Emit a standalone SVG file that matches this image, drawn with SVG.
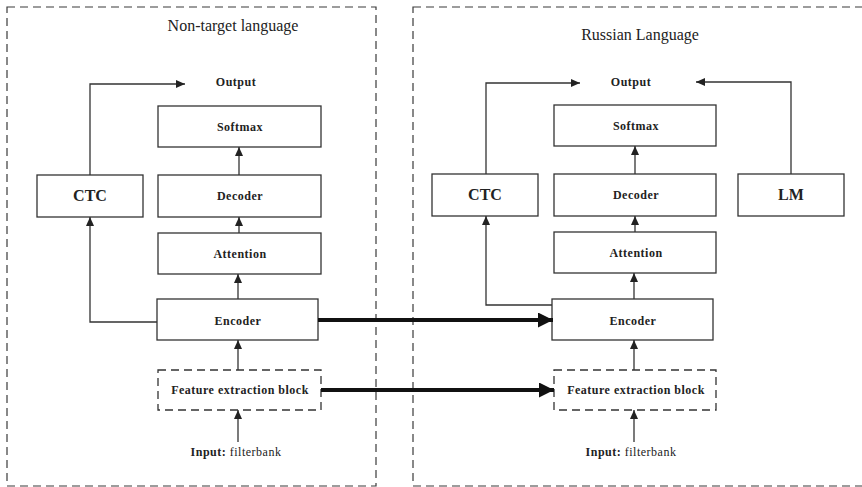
<svg xmlns="http://www.w3.org/2000/svg" width="862" height="487" viewBox="0 0 862 487">
  <defs>
    <marker id="head" markerUnits="userSpaceOnUse" markerWidth="10" markerHeight="8" refX="9" refY="4" orient="auto">
      <path d="M0,0 L9,4 L0,8 Z" fill="#222"/>
    </marker>
    <marker id="bighead" markerUnits="userSpaceOnUse" markerWidth="16" markerHeight="15" refX="15" refY="7.5" orient="auto">
      <path d="M0,0 L15,7.5 L0,15 Z" fill="#111"/>
    </marker>
    <style>
      .region { fill: none; stroke: #3a3a3a; stroke-width: 1.2; stroke-dasharray: 8 5; }
      .box { fill: #fff; stroke: #333; stroke-width: 1.3; }
      .dbox { fill: #fff; stroke: #333; stroke-width: 1.3; stroke-dasharray: 8 5; }
      .title { font-family: "Liberation Serif", "Times New Roman", serif; font-size: 16px; fill: #222; text-anchor: middle; }
      .lbl { font-family: "Liberation Serif", "Times New Roman", serif; font-size: 12px; font-weight: bold; letter-spacing: 0.5px; fill: #222; text-anchor: middle; }
      .big { font-family: "Liberation Serif", "Times New Roman", serif; font-size: 16px; font-weight: bold; fill: #222; text-anchor: middle; }
      .norm { font-weight: normal; }
      .link { fill: none; stroke: #333; stroke-width: 1.3; marker-end: url(#head); }
      .thick { fill: none; stroke: #111; stroke-width: 4; marker-end: url(#bighead); }
    </style>
  </defs>

  <!-- language regions -->
  <g id="region-nontarget">
    <rect class="region" x="7" y="7" width="369" height="479"/>
    <text class="title" x="233" y="31">Non-target language</text>
  </g>
  <g id="region-russian">
    <rect class="region" x="413" y="7" width="460" height="479"/>
    <text class="title" x="640" y="40">Russian Language</text>
  </g>

  <!-- non-target language branch -->
  <g id="out-left"><text class="lbl" x="236" y="86">Output</text></g>
  <g id="softmax-left">
    <rect class="box" x="158" y="106" width="163" height="41"/>
    <text class="lbl" x="240" y="131">Softmax</text>
  </g>
  <g id="decoder-left">
    <rect class="box" x="158" y="175" width="163" height="42"/>
    <text class="lbl" x="240" y="200">Decoder</text>
  </g>
  <g id="ctc-left">
    <rect class="box" x="37" y="175" width="106" height="42"/>
    <text class="big" x="90" y="201">CTC</text>
  </g>
  <g id="attention-left">
    <rect class="box" x="158" y="233" width="163" height="41"/>
    <text class="lbl" x="240" y="258">Attention</text>
  </g>
  <g id="encoder-left">
    <rect class="box" x="157" y="299" width="161" height="41"/>
    <text class="lbl" x="238" y="325">Encoder</text>
  </g>
  <g id="feature-left">
    <rect class="dbox" x="158" y="370" width="163" height="40"/>
    <text class="lbl" x="240" y="394">Feature extraction block</text>
  </g>
  <g id="input-left">
    <text class="lbl" x="236" y="456">Input:<tspan class="norm"> filterbank</tspan></text>
  </g>

  <!-- Russian language branch -->
  <g id="out-right"><text class="lbl" x="631" y="86">Output</text></g>
  <g id="softmax-right">
    <rect class="box" x="554" y="105" width="162" height="41"/>
    <text class="lbl" x="636" y="130">Softmax</text>
  </g>
  <g id="decoder-right">
    <rect class="box" x="554" y="174" width="162" height="42"/>
    <text class="lbl" x="636" y="199">Decoder</text>
  </g>
  <g id="ctc-right">
    <rect class="box" x="432" y="174" width="106" height="42"/>
    <text class="big" x="485" y="200">CTC</text>
  </g>
  <g id="lm-right">
    <rect class="box" x="738" y="174" width="106" height="42"/>
    <text class="big" x="791" y="200">LM</text>
  </g>
  <g id="attention-right">
    <rect class="box" x="554" y="232" width="162" height="41"/>
    <text class="lbl" x="636" y="257">Attention</text>
  </g>
  <g id="encoder-right">
    <rect class="box" x="552" y="299" width="161" height="41"/>
    <text class="lbl" x="633" y="325">Encoder</text>
  </g>
  <g id="feature-right">
    <rect class="dbox" x="554" y="370" width="162" height="40"/>
    <text class="lbl" x="636" y="394">Feature extraction block</text>
  </g>
  <g id="input-right">
    <text class="lbl" x="631" y="456">Input:<tspan class="norm"> filterbank</tspan></text>
  </g>

  <!-- connectors -->
  <g id="connectors">
    <!-- left column -->
    <path class="link" d="M239,175 V147"/>
    <path class="link" d="M239,233 V217"/>
    <path class="link" d="M238,299 V274"/>
    <path class="link" d="M238,370 V340"/>
    <path class="link" d="M238,442 V410"/>
    <path class="link" d="M157,322 H90 V217"/>
    <path class="link" d="M90,175 V84 H185"/>
    <!-- right column -->
    <path class="link" d="M635,174 V146"/>
    <path class="link" d="M635,232 V216"/>
    <path class="link" d="M634,299 V273"/>
    <path class="link" d="M634,370 V340"/>
    <path class="link" d="M634,442 V410"/>
    <path class="link" d="M552,305 H486 V216"/>
    <path class="link" d="M486,174 V83 H580"/>
    <path class="link" d="M791,174 V82 H696"/>
    <!-- transfer between languages -->
    <path class="thick" d="M318,320 H553"/>
    <path class="thick" d="M321,390 H554"/>
  </g>
</svg>
